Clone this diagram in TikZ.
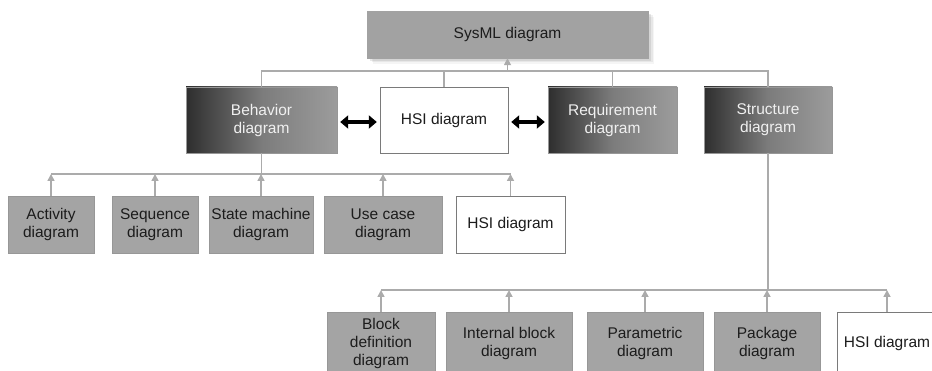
\documentclass[tikz,border=0pt]{standalone}
\usepackage{fontspec}
\setmainfont{Liberation Sans}
\usetikzlibrary{arrows.meta, shadows}
\definecolor{cbroot}{HTML}{A2A2A2}
\definecolor{cbgrey}{HTML}{A4A4A4}
\definecolor{cbedge}{HTML}{979797}
\definecolor{cbdark}{HTML}{2E2E2E}
\definecolor{cbhalf}{HTML}{7C7C7C}
\definecolor{cbmid}{HTML}{9C9C9C}
\definecolor{cbframe}{HTML}{7A7A7A}
\definecolor{cbline}{HTML}{ABABAB}
\definecolor{cbtext}{HTML}{1C1C1C}
\definecolor{cblight}{HTML}{F0F0F0}
\tikzstyle{rootbox} = [rectangle, minimum width=281pt, minimum height=47pt,
text centered, draw=cbroot, fill=cbroot, text=cbtext,
drop shadow={shadow xshift=6pt, shadow yshift=-6pt, opacity=0.08},
drop shadow={shadow xshift=4.5pt, shadow yshift=-4.5pt, opacity=0.12},
drop shadow={shadow xshift=3pt, shadow yshift=-3pt, opacity=0.18}]
\tikzstyle{kindbox} = [rectangle, minimum height=66pt, align=center, draw=cbedge,
left color=cbdark, right color=cbmid, middle color=cbhalf, text=cblight]
\tikzstyle{leafbox} = [rectangle, minimum height=57pt, align=center, inner xsep=1pt,
draw=cbedge, fill=cbgrey, text=cbtext]
\tikzstyle{lowbox} = [leafbox, minimum height=62pt]
\tikzstyle{hsibox} = [rectangle, align=center, draw=cbframe, fill=white, text=cbtext]
\tikzstyle{link} = [line width=1.6pt, draw=cbline]
\tikzstyle{uplink} = [link, -{Triangle[length=7pt, width=7pt]}]
\tikzstyle{twoway} = [line width=4pt, {Triangle[length=8pt, width=13pt]}-{Triangle[length=8pt, width=13pt]}]

\begin{document}
\begin{tikzpicture}[x=1pt, y=-1pt, font=\fontsize{15.5}{18}\selectfont]

\useasboundingbox (0,0) rectangle (932,371);
\clip (0,0) rectangle (932,371);

% ------------------------- nodes -------------------------

% ----- node: sysml
\node(sysml)[rootbox] at (507.5,34.5) {SysML diagram};
% ----- node: behavior
\node(behavior)[kindbox, minimum width=151pt] at (261.5,120) {Behavior\\diagram};
% ----- node: hsitop
\node(hsitop)[hsibox, minimum width=128pt, minimum height=66pt] at (444,120) {HSI diagram};
% ----- node: requirement
\node(requirement)[kindbox, minimum width=129pt] at (612.5,120) {Requirement\\diagram};
% ----- node: structure
\node(structure)[kindbox, minimum width=128pt] at (768,120) {Structure\\diagram};

% ----- behavior children
\node(activity)[leafbox, minimum width=86pt] at (51,224.5) {Activity\\diagram};
\node(sequence)[leafbox, minimum width=86pt] at (155,224.5) {Sequence\\diagram};
\node(statemachine)[leafbox, minimum width=104pt] at (261,224.5) {State machine\\diagram};
\node(usecase)[leafbox, minimum width=118pt] at (383,224.5) {Use case\\diagram};
\node(hsimid)[hsibox, minimum width=109pt, minimum height=57pt] at (510.5,224.5) {HSI diagram};

% ----- structure children
\node(blockdef)[lowbox, minimum width=108pt] at (381,343) {Block\\definition\\diagram};
\node(internal)[lowbox, minimum width=126pt] at (509,343) {Internal block\\diagram};
\node(parametric)[lowbox, minimum width=116pt] at (645,343) {Parametric\\diagram};
\node(package)[lowbox, minimum width=106pt] at (767,343) {Package\\diagram};
\node(hsilow)[hsibox, minimum width=100pt, minimum height=62pt] at (887,343) {HSI diagram};

% ------------------------- connectors -------------------------

\coordinate (bus1) at (0,71);
\coordinate (bus2) at (0,174);
\coordinate (bus3) at (0,290);

\draw[link] (behavior.north) |- (structure.north |- bus1) -- (structure.north);
\draw[link] (hsitop.north) -- (hsitop.north |- bus1);
\draw[link] (requirement.north) -- (requirement.north |- bus1);
\draw[uplink] (sysml.south |- bus1) -- (sysml.south);

\draw[link] (behavior.south) -- (behavior.south |- bus2);
\draw[link] (activity.north |- bus2) -- (hsimid.north |- bus2);
\foreach \n in {activity, sequence, statemachine, usecase, hsimid}
  \draw[uplink] (\n.north) -- (\n.north |- bus2);

\draw[link] (structure.south) -- (structure.south |- bus3);
\draw[link] (blockdef.north |- bus3) -- (hsilow.north |- bus3);
\foreach \n in {blockdef, internal, parametric, package, hsilow}
  \draw[uplink] (\n.north) -- (\n.north |- bus3);

\draw[twoway, shorten <=3pt, shorten >=3pt] ([yshift=-2pt]behavior.east) -- ([yshift=-2pt]hsitop.west);
\draw[twoway, shorten <=3pt, shorten >=3pt] ([yshift=-2pt]hsitop.east) -- ([yshift=-2pt]requirement.west);

\end{tikzpicture}
\end{document}
